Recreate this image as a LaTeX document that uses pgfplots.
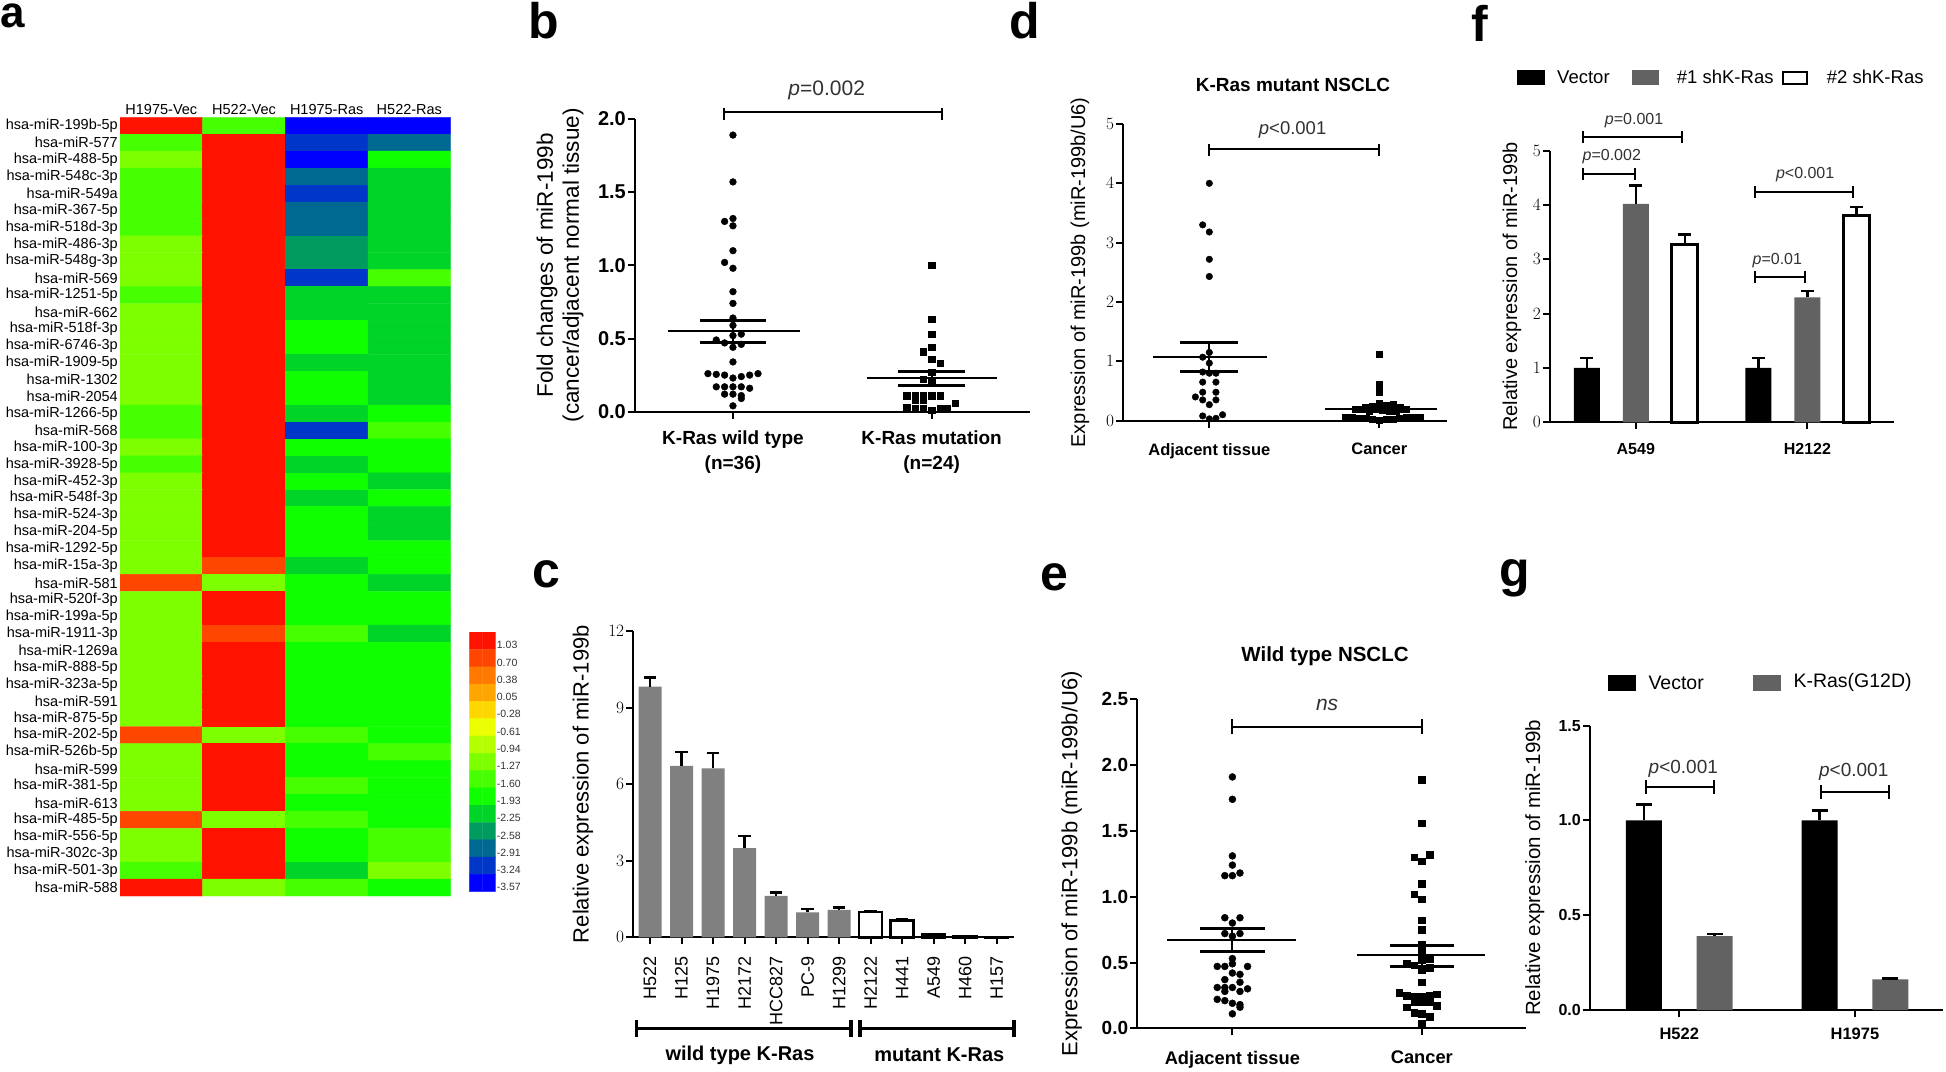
\documentclass[border=0pt]{standalone}
\usepackage{fontspec}
\setmainfont{Liberation Sans}
\usepackage{pgfplots}
\pgfplotsset{compat=1.18}
\definecolor{gC}{RGB}{128,128,128}
\definecolor{gA}{RGB}{98,98,98}
\definecolor{pv}{RGB}{50,50,50}
\newcommand{\fs}[1]{\fontsize{#1}{#1}\selectfont}
\pgfplotsset{
  place/.style 2 args={at={(#1pt,{1071pt-#2pt})}, anchor=south west},
  gp/.style={scale only axis, clip=false, enlargelimits=false,
    axis x line=bottom, axis y line=left,
    x axis line style={-}, y axis line style={-},
    axis line style={line width=2pt},
    tick style={black, line width=2pt},
    major tick length=7pt, tick align=outside,
    yticklabel style={font=\bfseries\fs{18}, inner sep=2pt},
    xticklabel style={font=\bfseries\fs{19}},
    ylabel style={align=center, anchor=center},
  },
  eb/.style 2 args={error bars/y dir=plus, error bars/y explicit,
    error bars/error bar style={line width=#1, black},
    error bars/error mark options={rotate=90, line width=#1, mark size=#2, black}},
  hmcm/.style={colormap={hm}{rgb255=(255,18,0) rgb255=(255,70,0) rgb255=(255,120,0) rgb255=(255,165,0) rgb255=(255,215,0) rgb255=(235,255,0) rgb255=(180,255,0) rgb255=(125,255,0) rgb255=(70,255,0) rgb255=(15,255,0) rgb255=(0,212,40) rgb255=(0,155,95) rgb255=(0,105,145) rgb255=(0,55,200) rgb255=(0,0,255)}, colormap access=direct},
}
\begin{document}
\begin{tikzpicture}[x=1pt,y=1pt]
\useasboundingbox (0,0) rectangle (1946,1071);

% ---------- panel letters
\node[anchor=base west, inner sep=0pt, font=\bfseries\fs{44}] at (0.5,1071-28) {a};
\node[anchor=base west, inner sep=0pt, font=\bfseries\fs{50}] at (528,1071-39) {b};
\node[anchor=base west, inner sep=0pt, font=\bfseries\fs{50}] at (532,1071-588) {c};
\node[anchor=base west, inner sep=0pt, font=\bfseries\fs{50}] at (1009,1071-38.3) {d};
\node[anchor=base west, inner sep=0pt, font=\bfseries\fs{50}] at (1040,1071-591) {e};
\node[anchor=base west, inner sep=0pt, font=\bfseries\fs{50}] at (1471,1071-42) {f};
\node[anchor=base west, inner sep=0pt, font=\bfseries\fs{50}] at (1499,1071-587) {g};

% ---------- panel a: heatmap
\begin{axis}[hmcm, scale only axis, place={120}{896}, width=330.7pt, height=778.7pt,
  xmin=-0.5, xmax=3.5, ymin=-0.5, ymax=45.5, y dir=reverse, enlargelimits=false,
  axis line style={draw=none}, major tick length=0pt, tick style={draw=none},
  xtick={0,1,2,3}, xticklabels={H1975-Vec,H522-Vec,H1975-Ras,H522-Ras}, xticklabel pos=upper,
  ytick={0,...,45}, yticklabel pos=left,
  yticklabels={hsa-miR-199b-5p,hsa-miR-577,hsa-miR-488-5p,hsa-miR-548c-3p,hsa-miR-549a,hsa-miR-367-5p,hsa-miR-518d-3p,hsa-miR-486-3p,hsa-miR-548g-3p,hsa-miR-569,hsa-miR-1251-5p,hsa-miR-662,hsa-miR-518f-3p,hsa-miR-6746-3p,hsa-miR-1909-5p,hsa-miR-1302,hsa-miR-2054,hsa-miR-1266-5p,hsa-miR-568,hsa-miR-100-3p,hsa-miR-3928-5p,hsa-miR-452-3p,hsa-miR-548f-3p,hsa-miR-524-3p,hsa-miR-204-5p,hsa-miR-1292-5p,hsa-miR-15a-3p,hsa-miR-581,hsa-miR-520f-3p,hsa-miR-199a-5p,hsa-miR-1911-3p,hsa-miR-1269a,hsa-miR-888-5p,hsa-miR-323a-5p,hsa-miR-591,hsa-miR-875-5p,hsa-miR-202-5p,hsa-miR-526b-5p,hsa-miR-599,hsa-miR-381-5p,hsa-miR-613,hsa-miR-485-5p,hsa-miR-556-5p,hsa-miR-302c-3p,hsa-miR-501-3p,hsa-miR-588},
  tick label style={font=\fs{14.5}, inner sep=2pt},
]
\addplot[matrix plot*, mesh/cols=4, point meta=explicit] table[meta=c, row sep=\\] {
x y c\\
0 0 0\\ 1 0 8\\ 2 0 14\\ 3 0 14\\
0 1 8\\ 1 1 0\\ 2 1 13\\ 3 1 12\\
0 2 7\\ 1 2 0\\ 2 2 14\\ 3 2 9\\
0 3 8\\ 1 3 0\\ 2 3 12\\ 3 3 10\\
0 4 8\\ 1 4 0\\ 2 4 13\\ 3 4 10\\
0 5 8\\ 1 5 0\\ 2 5 12\\ 3 5 10\\
0 6 8\\ 1 6 0\\ 2 6 12\\ 3 6 10\\
0 7 7\\ 1 7 0\\ 2 7 11\\ 3 7 10\\
0 8 7\\ 1 8 0\\ 2 8 11\\ 3 8 10\\
0 9 7\\ 1 9 0\\ 2 9 13\\ 3 9 8\\
0 10 8\\ 1 10 0\\ 2 10 10\\ 3 10 10\\
0 11 7\\ 1 11 0\\ 2 11 10\\ 3 11 10\\
0 12 7\\ 1 12 0\\ 2 12 9\\ 3 12 10\\
0 13 7\\ 1 13 0\\ 2 13 9\\ 3 13 10\\
0 14 7\\ 1 14 0\\ 2 14 10\\ 3 14 10\\
0 15 7\\ 1 15 0\\ 2 15 9\\ 3 15 10\\
0 16 7\\ 1 16 0\\ 2 16 9\\ 3 16 10\\
0 17 8\\ 1 17 0\\ 2 17 10\\ 3 17 9\\
0 18 8\\ 1 18 0\\ 2 18 13\\ 3 18 8\\
0 19 7\\ 1 19 0\\ 2 19 9\\ 3 19 9\\
0 20 8\\ 1 20 0\\ 2 20 10\\ 3 20 9\\
0 21 7\\ 1 21 0\\ 2 21 9\\ 3 21 10\\
0 22 7\\ 1 22 0\\ 2 22 10\\ 3 22 9\\
0 23 7\\ 1 23 0\\ 2 23 9\\ 3 23 10\\
0 24 7\\ 1 24 0\\ 2 24 9\\ 3 24 10\\
0 25 7\\ 1 25 0\\ 2 25 9\\ 3 25 9\\
0 26 7\\ 1 26 1\\ 2 26 10\\ 3 26 9\\
0 27 1\\ 1 27 7\\ 2 27 9\\ 3 27 10\\
0 28 7\\ 1 28 0\\ 2 28 9\\ 3 28 9\\
0 29 7\\ 1 29 0\\ 2 29 9\\ 3 29 9\\
0 30 7\\ 1 30 1\\ 2 30 8\\ 3 30 10\\
0 31 7\\ 1 31 0\\ 2 31 9\\ 3 31 9\\
0 32 7\\ 1 32 0\\ 2 32 9\\ 3 32 9\\
0 33 7\\ 1 33 0\\ 2 33 9\\ 3 33 9\\
0 34 7\\ 1 34 0\\ 2 34 9\\ 3 34 9\\
0 35 7\\ 1 35 0\\ 2 35 9\\ 3 35 9\\
0 36 1\\ 1 36 7\\ 2 36 8\\ 3 36 9\\
0 37 7\\ 1 37 0\\ 2 37 9\\ 3 37 8\\
0 38 7\\ 1 38 0\\ 2 38 9\\ 3 38 9\\
0 39 7\\ 1 39 0\\ 2 39 8\\ 3 39 9\\
0 40 7\\ 1 40 0\\ 2 40 9\\ 3 40 9\\
0 41 1\\ 1 41 7\\ 2 41 8\\ 3 41 9\\
0 42 7\\ 1 42 0\\ 2 42 9\\ 3 42 8\\
0 43 7\\ 1 43 0\\ 2 43 9\\ 3 43 8\\
0 44 8\\ 1 44 0\\ 2 44 10\\ 3 44 7\\
0 45 0\\ 1 45 7\\ 2 45 8\\ 3 45 9\\
};
\end{axis}

% colour key
\begin{axis}[hmcm, scale only axis, place={469.3}{891.7}, width=26.4pt, height=259.5pt,
  xmin=-0.5, xmax=1.5, ymin=-0.5, ymax=14.5, y dir=reverse, enlargelimits=false,
  axis line style={draw=none}, major tick length=0pt, tick style={draw=none},
  xtick=\empty, ytick={0.25,1.25,...,14.25}, yticklabel pos=right,
  yticklabels={1.03,0.70,0.38,0.05,-0.28,-0.61,-0.94,-1.27,-1.60,-1.93,-2.25,-2.58,-2.91,-3.24,-3.57},
  yticklabel style={font=\fs{10.5}, text=black!80, inner sep=1pt},
]
\addplot[matrix plot*, mesh/cols=2, point meta=explicit] table[meta=c, row sep=\\] {
x y c\\
0 0 0\\ 1 0 0\\ 0 1 1\\ 1 1 1\\ 0 2 2\\ 1 2 2\\ 0 3 3\\ 1 3 3\\ 0 4 4\\ 1 4 4\\
0 5 5\\ 1 5 5\\ 0 6 6\\ 1 6 6\\ 0 7 7\\ 1 7 7\\ 0 8 8\\ 1 8 8\\ 0 9 9\\ 1 9 9\\
0 10 10\\ 1 10 10\\ 0 11 11\\ 1 11 11\\ 0 12 12\\ 1 12 12\\ 0 13 13\\ 1 13 13\\ 0 14 14\\ 1 14 14\\
};
\end{axis}

% ---------- panel b
\begin{axis}[gp, place={635}{411.7}, width=395pt, height=292.7pt,
  xmin=0.507, xmax=2.495, ymin=0, ymax=2,
  xtick={1,2}, xticklabels={{K-Ras wild type\\[6pt](n=36)},{K-Ras mutation\\[6pt](n=24)}},
  xticklabel style={align=center}, xticklabel shift=9pt,
  ytick={0,0.5,1,1.5,2}, yticklabels={0.0,0.5,1.0,1.5,2.0}, yticklabel style={font=\bfseries\fs{20}},
  ylabel={Fold changes of miR-199b\\(cancer/adjacent normal tissue)},
  ylabel style={at={(axis description cs:-0.19,0.5)}, font=\fontsize{22.5}{26}\selectfont},
]
\addplot[only marks, mark=*, mark size=3.4pt, black] coordinates {
(1.00,1.89) (1.00,1.57) (1.00,1.32) (0.958,1.30) (1.00,1.27) (1.00,1.10) (0.958,1.02) (1.00,0.98)
(1.00,0.82) (1.00,0.74) (1.00,0.64) (1.00,0.59) (1.042,0.53) (1.00,0.52) (0.916,0.49) (0.958,0.47)
(1.042,0.46) (1.00,0.44) (1.00,0.34) (0.874,0.26) (0.916,0.255) (0.958,0.25) (1.00,0.23) (1.042,0.24)
(1.084,0.25) (1.126,0.26) (0.916,0.17) (0.958,0.17) (1.00,0.17) (1.042,0.17) (1.084,0.16)
(0.958,0.12) (1.00,0.12) (1.042,0.11) (1.042,0.09) (1.00,0.04)};
\addplot[only marks, mark=square*, mark size=3.2pt, black] coordinates {
(2.00,1.00) (2.00,0.63) (2.00,0.53) (2.00,0.44) (1.958,0.41) (2.00,0.36) (2.042,0.33) (2.00,0.27)
(1.958,0.22) (2.00,0.21) (1.874,0.11) (1.916,0.11) (1.958,0.11) (2.00,0.11) (2.042,0.11)
(1.916,0.08) (1.958,0.08) (2.117,0.06) (1.874,0.03) (1.916,0.02) (1.958,0.02) (2.00,0.01) (2.042,0.02) (2.075,0.02)};
\addplot[black, line width=2pt] coordinates {(0.673,0.55) (1.337,0.55)};
\addplot[black, line width=3pt] coordinates {(0.833,0.62) (1.167,0.62)};
\addplot[black, line width=3pt] coordinates {(0.833,0.47) (1.167,0.47)};
\addplot[black, line width=2pt] coordinates {(1,0.47) (1,0.62)};
\addplot[black, line width=2pt] coordinates {(1.673,0.23) (2.33,0.23)};
\addplot[black, line width=3pt] coordinates {(1.83,0.275) (2.17,0.275)};
\addplot[black, line width=3pt] coordinates {(1.83,0.18) (2.17,0.18)};
\addplot[black, line width=2pt] coordinates {(2,0.18) (2,0.275)};
\draw[line width=2pt] (axis cs:0.955,2.05) -- (axis cs:2.05,2.05);
\draw[line width=2pt] (axis cs:0.955,1.995) -- (axis cs:0.955,2.075);
\draw[line width=2pt] (axis cs:2.05,1.995) -- (axis cs:2.05,2.075);
\node[font=\fs{21}, text=pv] at (axis cs:1.472,2.198) {\textit{p}=0.002};
\end{axis}

% ---------- panel c
\begin{axis}[gp, place={633.3}{937.3}, width=380.7pt, height=306.3pt,
  xmin=0.47, xmax=12.55, ymin=0, ymax=12, ybar, bar width=23pt,
  xtick={1,...,12}, xticklabels={H522,H125,H1975,H2172,HCC827,PC-9,H1299,H2122,H441,A549,H460,H157},
  xticklabel style={rotate=90, anchor=east, font=\fs{18}}, xticklabel shift=9pt,
  ytick={0,3,6,9,12},
  ylabel={Relative expression of miR-199b},
  ylabel style={at={(axis description cs:-0.132,0.5)}, font=\fs{22}},
]
\addplot[fill=gC, draw=none, bar shift=0pt, eb={2.5pt}{6.3pt}] coordinates {
(1,9.82) +- (0,0.36) (2,6.72) +- (0,0.53) (3,6.62) +- (0,0.61) (4,3.49) +- (0,0.48)
(5,1.62) +- (0,0.13) (6,0.98) +- (0,0.12) (7,1.07) +- (0,0.09)};
\addplot[fill=white, draw=black, line width=2.5pt, bar shift=0pt, eb={2.5pt}{6.3pt}] coordinates {
(8,1.00) +- (0,0.03) (9,0.66) +- (0,0.05) (10,0.10) +- (0,0.02) (11,0.03) +- (0,0.01) (12,0.005) +- (0,0.002)};
\end{axis}
\draw[line width=3pt] (636.7,1071-1028) -- (851,1071-1028);
\draw[line width=3.5pt] (636.7,1071-1020) -- (636.7,1071-1037);
\draw[line width=3.5pt] (851,1071-1020) -- (851,1071-1037);
\draw[line width=3pt] (860,1071-1028) -- (1014,1071-1028);
\draw[line width=3.5pt] (860,1071-1020) -- (860,1071-1037);
\draw[line width=3.5pt] (1014,1071-1020) -- (1014,1071-1037);
\node[font=\bfseries\fs{20}] at (740,1071-1055) {wild type K-Ras};
\node[font=\bfseries\fs{20}] at (939.3,1071-1055) {mutant K-Ras};

% ---------- panel d
\node[font=\bfseries\fs{19}] at (1293,1071-85) {K-Ras mutant NSCLC};
\begin{axis}[gp, place={1123.3}{420.7}, width=324pt, height=296.7pt,
  xmin=0.494, xmax=2.4, ymin=0, ymax=5,
  xtick={1,2}, xticklabels={Adjacent tissue,Cancer}, xticklabel style={font=\bfseries\fs{16.5}}, xticklabel shift=12pt,
  ytick={0,1,2,3,4,5}, yticklabel style={font=\bfseries\fs{17}},
  ylabel={Expression of miR-199b (miR-199b/U6)},
  ylabel style={at={(axis description cs:-0.134,0.5)}, font=\fs{20}},
]
\addplot[only marks, mark=*, mark size=3.3pt, black] coordinates {
(1.00,4.00) (0.961,3.30) (1.00,3.18) (1.00,2.72) (1.00,2.43) (1.00,1.15) (0.961,1.07) (1.00,0.97)
(0.961,0.82) (1.00,0.80) (1.039,0.80) (0.961,0.65) (1.039,0.65) (0.961,0.48) (1.039,0.48) (0.918,0.40)
(0.961,0.35) (1.039,0.35) (1.00,0.27) (1.078,0.10) (0.961,0.08) (1.00,0.03) (1.039,0.04)};
\addplot[only marks, mark=square*, mark size=3.1pt, black] coordinates {
(2.00,1.12) (2.00,0.62) (2.00,0.49)
(1.92,0.22) (1.96,0.24) (2.00,0.30) (2.04,0.26) (2.08,0.27) (2.12,0.22) (1.94,0.17) (1.98,0.19) (2.02,0.18) (2.06,0.16) (2.10,0.17)
(1.80,0.06) (1.84,0.05) (1.88,0.04) (1.92,0.04) (1.96,0.03) (2.00,0.01) (2.04,0.02) (2.08,0.03) (2.12,0.04) (2.16,0.05) (2.20,0.05) (2.24,0.06)};
\addplot[black, line width=2pt] coordinates {(0.669,1.07) (1.339,1.07)};
\addplot[black, line width=3pt] coordinates {(0.83,1.31) (1.17,1.31)};
\addplot[black, line width=3pt] coordinates {(0.83,0.83) (1.17,0.83)};
\addplot[black, line width=2pt] coordinates {(1,0.83) (1,1.31)};
\addplot[black, line width=2pt] coordinates {(1.68,0.19) (2.34,0.19)};
\addplot[black, line width=3pt] coordinates {(1.84,0.22) (2.18,0.22)};
\addplot[black, line width=3pt] coordinates {(1.84,0.16) (2.18,0.16)};
\draw[line width=2pt] (axis cs:1,4.58) -- (axis cs:2,4.58);
\draw[line width=2pt] (axis cs:1,4.46) -- (axis cs:1,4.66);
\draw[line width=2pt] (axis cs:2,4.46) -- (axis cs:2,4.66);
\node[font=\fs{18.5}, text=pv] at (axis cs:1.49,4.9) {\textit{p}<0.001};
\end{axis}

% ---------- panel e
\node[font=\bfseries\fs{20.5}] at (1325,1071-656.7) {Wild type NSCLC};
\begin{axis}[gp, place={1137.3}{1028.3}, width=388.7pt, height=329pt,
  xmin=0.498, xmax=2.55, ymin=0, ymax=2.5,
  xtick={1,2}, xticklabels={Adjacent tissue,Cancer}, xticklabel style={font=\bfseries\fs{18.3}}, xticklabel shift=12pt,
  ytick={0,0.5,1,1.5,2,2.5}, yticklabels={0.0,0.5,1.0,1.5,2.0,2.5}, yticklabel style={font=\bfseries\fs{19}},
  ylabel={Expression of miR-199b (miR-199b/U6)},
  ylabel style={at={(axis description cs:-0.169,0.5)}, font=\fs{22}},
]
\addplot[only marks, mark=*, mark size=3.5pt, black] coordinates {
(1,1.91) (1,1.74) (1,1.31) (1,1.24) (1.04,1.18) (0.96,1.16) (1,1.16) (0.96,0.84) (1.04,0.84) (1,0.80)
(0.96,0.72) (1.04,0.72) (1,0.70) (1,0.53) (1,0.49) (0.92,0.47) (0.96,0.47) (1.08,0.47) (1,0.42) (1.04,0.41)
(0.96,0.37) (1.04,0.35) (0.92,0.31) (0.96,0.31) (1,0.31) (1.08,0.30) (0.96,0.28) (1.04,0.28)
(0.92,0.22) (0.96,0.21) (1,0.19) (1.04,0.18) (1.04,0.16) (1,0.11)};
\addplot[only marks, mark=square*, mark size=3.3pt, black] coordinates {
(2,1.89) (2,1.56) (2.04,1.32) (1.96,1.30) (2,1.27) (2,1.10) (1.96,1.02) (2,0.98) (2,0.82) (2,0.75)
(2,0.64) (2,0.59) (2.04,0.53) (2,0.52) (1.92,0.49) (1.96,0.48) (2.04,0.46) (2,0.44) (2,0.35)
(1.88,0.27) (1.92,0.25) (1.96,0.24) (2,0.24) (2.04,0.25) (2.08,0.26) (1.92,0.16) (1.96,0.20) (2,0.20) (2.04,0.20) (2.08,0.17)
(1.96,0.12) (2,0.11) (2.04,0.09) (2,0.04)};
\addplot[black, line width=2pt] coordinates {(0.655,0.67) (1.337,0.67)};
\addplot[black, line width=3pt] coordinates {(0.83,0.755) (1.17,0.755)};
\addplot[black, line width=3pt] coordinates {(0.83,0.58) (1.17,0.58)};
\addplot[black, line width=2pt] coordinates {(1,0.58) (1,0.755)};
\addplot[black, line width=2pt] coordinates {(1.658,0.555) (2.335,0.555)};
\addplot[black, line width=3pt] coordinates {(1.83,0.63) (2.17,0.63)};
\addplot[black, line width=3pt] coordinates {(1.83,0.47) (2.17,0.47)};
\addplot[black, line width=2pt] coordinates {(2,0.47) (2,0.63)};
\draw[line width=2pt] (axis cs:1,2.29) -- (axis cs:2,2.29);
\draw[line width=2pt] (axis cs:1,2.233) -- (axis cs:1,2.347);
\draw[line width=2pt] (axis cs:2,2.233) -- (axis cs:2,2.347);
\node[font=\itshape\fs{21}, text=pv] at (axis cs:1.5,2.457) {ns};
\end{axis}

% ---------- panel f
\fill[black] (1516.7,1071-85) rectangle (1545,1071-70);
\node[anchor=west, inner sep=0pt, font=\fs{18.5}] at (1557,1071-77) {Vector};
\fill[gA] (1631.7,1071-85) rectangle (1659.3,1071-70);
\node[anchor=west, inner sep=0pt, font=\fs{18.5}] at (1676.7,1071-77) {\#1 shK-Ras};
\draw[line width=2.5pt] (1783,1071-84) rectangle (1807,1071-72);
\node[anchor=west, inner sep=0pt, font=\fs{18.5}] at (1826.7,1071-77) {\#2 shK-Ras};
\begin{axis}[gp, place={1550}{422.3}, width=344pt, height=271.7pt,
  xmin=0.5, xmax=2.505, ymin=0, ymax=5, ybar, bar width=26pt,
  xtick={1,2}, xticklabels={A549,H2122}, xticklabel style={font=\bfseries\fs{16}}, xticklabel shift=11pt,
  ytick={0,1,2,3,4,5}, yticklabel style={font=\bfseries\fs{17}},
  ylabel={Relative expression of miR-199b},
  ylabel style={at={(axis description cs:-0.111,0.5)}, font=\fs{20}},
]
\addplot[fill=black, draw=none, bar shift=-49pt, eb={2.5pt}{6.5pt}] coordinates {(1,1.0) +- (0,0.18) (2,1.0) +- (0,0.18)};
\addplot[fill=gA, draw=none, bar shift=0pt, eb={2.5pt}{6.5pt}] coordinates {(1,4.02) +- (0,0.34) (2,2.30) +- (0,0.12)};
\addplot[fill=white, draw=black, line width=3pt, bar shift=49pt, eb={2.5pt}{6.5pt}] coordinates {(1,3.275) +- (0,0.185) (2,3.80) +- (0,0.16)};
\draw[line width=2pt] (axis cs:0.695,5.256) -- (axis cs:1.268,5.256);
\draw[line width=2pt] (axis cs:0.695,5.146) -- (axis cs:0.695,5.366);
\draw[line width=2pt] (axis cs:1.268,5.146) -- (axis cs:1.268,5.366);
\node[font=\fs{16}, text=pv] at (axis cs:0.99,5.55) {\textit{p}=0.001};
\draw[line width=2pt] (axis cs:0.695,4.569) -- (axis cs:0.996,4.569);
\draw[line width=2pt] (axis cs:0.695,4.459) -- (axis cs:0.695,4.679);
\draw[line width=2pt] (axis cs:0.996,4.459) -- (axis cs:0.996,4.679);
\node[font=\fs{16}, text=pv] at (axis cs:0.86,4.888) {\textit{p}=0.002};
\draw[line width=2pt] (axis cs:1.693,4.244) -- (axis cs:2.266,4.244);
\draw[line width=2pt] (axis cs:1.693,4.134) -- (axis cs:1.693,4.354);
\draw[line width=2pt] (axis cs:2.266,4.134) -- (axis cs:2.266,4.354);
\node[font=\fs{16}, text=pv] at (axis cs:1.987,4.551) {\textit{p}<0.001};
\draw[line width=2pt] (axis cs:1.693,2.668) -- (axis cs:1.987,2.668);
\draw[line width=2pt] (axis cs:1.693,2.558) -- (axis cs:1.693,2.778);
\draw[line width=2pt] (axis cs:1.987,2.558) -- (axis cs:1.987,2.778);
\node[font=\fs{16}, text=pv] at (axis cs:1.825,2.974) {\textit{p}=0.01};
\end{axis}

% ---------- panel g
\fill[black] (1608.3,1071-690.7) rectangle (1636,1071-675);
\node[anchor=west, inner sep=0pt, font=\fs{19.5}] at (1648.3,1071-682.7) {Vector};
\fill[gA] (1752.7,1071-690.7) rectangle (1780.7,1071-675);
\node[anchor=west, inner sep=0pt, font=\fs{19.5}] at (1793.3,1071-682.7) {K-Ras(G12D)};
\begin{axis}[gp, place={1590}{1010}, width=353.3pt, height=284.3pt,
  xmin=0.492, xmax=2.503, ymin=0, ymax=1.5, ybar, bar width=36pt,
  xtick={1,2}, xticklabels={H522,H1975}, xticklabel style={font=\bfseries\fs{16.5}}, xticklabel shift=7pt,
  ytick={0,0.5,1,1.5}, yticklabels={0.0,0.5,1.0,1.5}, yticklabel style={font=\bfseries\fs{16}},
  ylabel={Relative expression of miR-199b},
  ylabel style={at={(axis description cs:-0.156,0.5)}, font=\fs{20.5}},
]
\addplot[fill=black, draw=none, bar shift=-35.3pt, eb={2.5pt}{8pt}] coordinates {(1,1.0) +- (0,0.085) (2,1.0) +- (0,0.052)};
\addplot[fill=gA, draw=none, bar shift=35.3pt, eb={2.5pt}{8pt}] coordinates {(1,0.39) +- (0,0.01) (2,0.162) +- (0,0.003)};
\draw[line width=2pt] (axis cs:0.809,1.178) -- (axis cs:1.199,1.178);
\draw[line width=2pt] (axis cs:0.809,1.141) -- (axis cs:0.809,1.215);
\draw[line width=2pt] (axis cs:1.199,1.141) -- (axis cs:1.199,1.215);
\node[font=\fs{19}, text=pv] at (axis cs:1.023,1.275) {\textit{p}<0.001};
\draw[line width=2pt] (axis cs:1.805,1.149) -- (axis cs:2.195,1.149);
\draw[line width=2pt] (axis cs:1.805,1.112) -- (axis cs:1.805,1.186);
\draw[line width=2pt] (axis cs:2.195,1.112) -- (axis cs:2.195,1.186);
\node[font=\fs{19}, text=pv] at (axis cs:1.993,1.258) {\textit{p}<0.001};
\end{axis}
\end{tikzpicture}
\end{document}
